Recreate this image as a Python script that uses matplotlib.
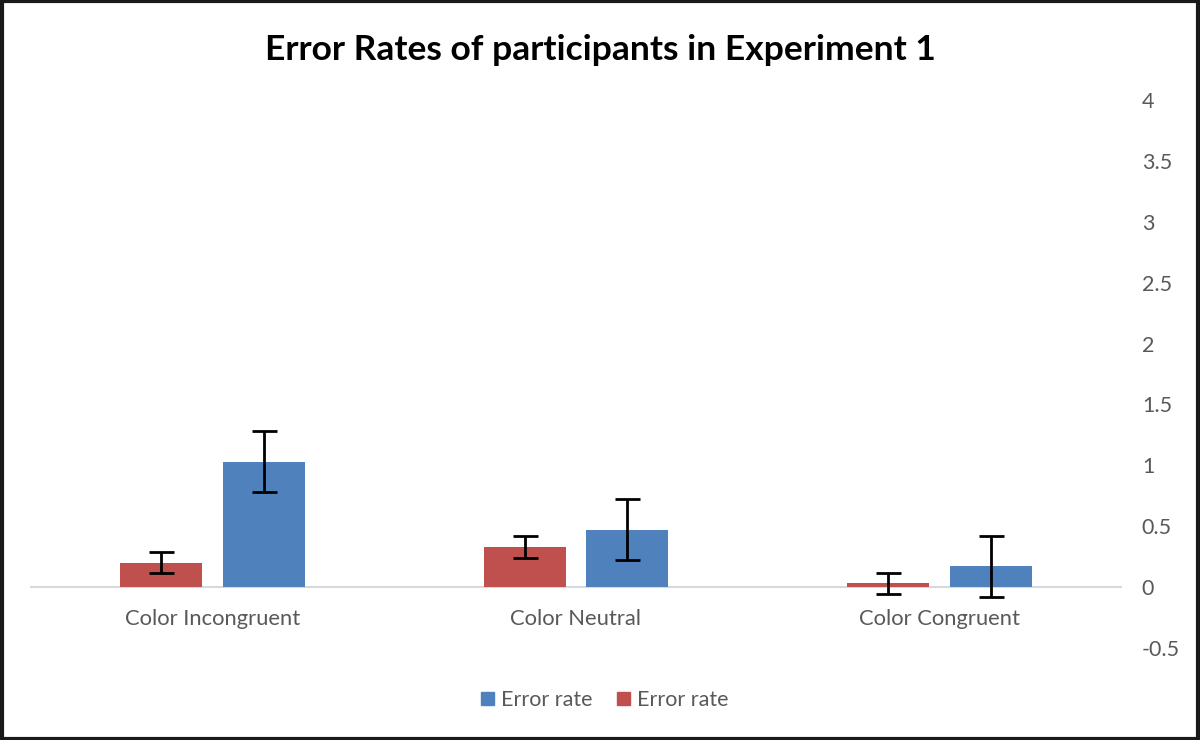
import matplotlib
matplotlib.use('Agg')
import matplotlib.pyplot as plt
import numpy as np
from matplotlib.patches import Rectangle

plt.rcParams['font.family'] = ['Lato', 'DejaVu Sans']

categories = ['Color Incongruent', 'Color Neutral', 'Color Congruent']
red_vals = [0.20, 0.33, 0.03]
red_err = [0.085, 0.09, 0.086]
blue_vals = [1.03, 0.47, 0.17]
blue_err = [0.25, 0.25, 0.25]
y_ticks = [-0.5, 0, 0.5, 1, 1.5, 2, 2.5, 3, 3.5, 4]

red = '#c0504d'
blue = '#4f81bd'
gray = '#595959'

fig = plt.figure(figsize=(12, 7.4), dpi=100)
ax = fig.add_axes([0.0258, 0.1243, 0.9084, 0.7406])

x = np.arange(len(categories))
w = 0.226
ekw = dict(ecolor='black', elinewidth=2, capsize=9, capthick=2)
ax.bar(x - 0.141, red_vals, w, color=red, yerr=red_err, error_kw=ekw, zorder=2)
ax.bar(x + 0.141, blue_vals, w, color=blue, yerr=blue_err, error_kw=ekw, zorder=2)

ax.set_xlim(-0.5, 2.5)
ax.set_ylim(-0.5, 4)
ax.set_yticks(y_ticks)
ax.set_yticklabels([('%g' % t) for t in y_ticks])
ax.yaxis.tick_right()
ax.tick_params(axis='y', length=0, pad=15, labelsize=15.5, labelcolor=gray)
for lab in ax.get_yticklabels():
    lab.set_horizontalalignment('left')

ax.set_xticks(x)
ax.set_xticklabels(categories)
ax.tick_params(axis='x', length=0, pad=16, labelsize=15.8, labelcolor=gray)

for s in ['top', 'left', 'right']:
    ax.spines[s].set_visible(False)
ax.spines['bottom'].set_position(('data', 0))
ax.spines['bottom'].set_color('#d9d9d9')
ax.spines['bottom'].set_linewidth(1.5)
ax.spines['bottom'].set_zorder(1)

fig.text(0.5, 0.933, 'Error Rates of participants in Experiment 1',
         ha='center', va='center', fontsize=25.5, fontweight='bold', color='black')

handles = [Rectangle((0, 0), 1, 1, color=blue), Rectangle((0, 0), 1, 1, color=red)]
fig.legend(handles, ['Error rate', 'Error rate'], loc='center', ncol=2,
           bbox_to_anchor=(0.504, 0.054), frameon=False, fontsize=15.5,
           labelcolor=gray, handlelength=0.6, handleheight=0.6,
           handletextpad=0.33, columnspacing=1.1)

fig.patches.append(Rectangle((0.0015, 0.002), 0.997, 0.996, transform=fig.transFigure,
                             fill=False, edgecolor='#1a1a1a', linewidth=3))

fig.savefig('out.png', dpi=100, facecolor='white')
